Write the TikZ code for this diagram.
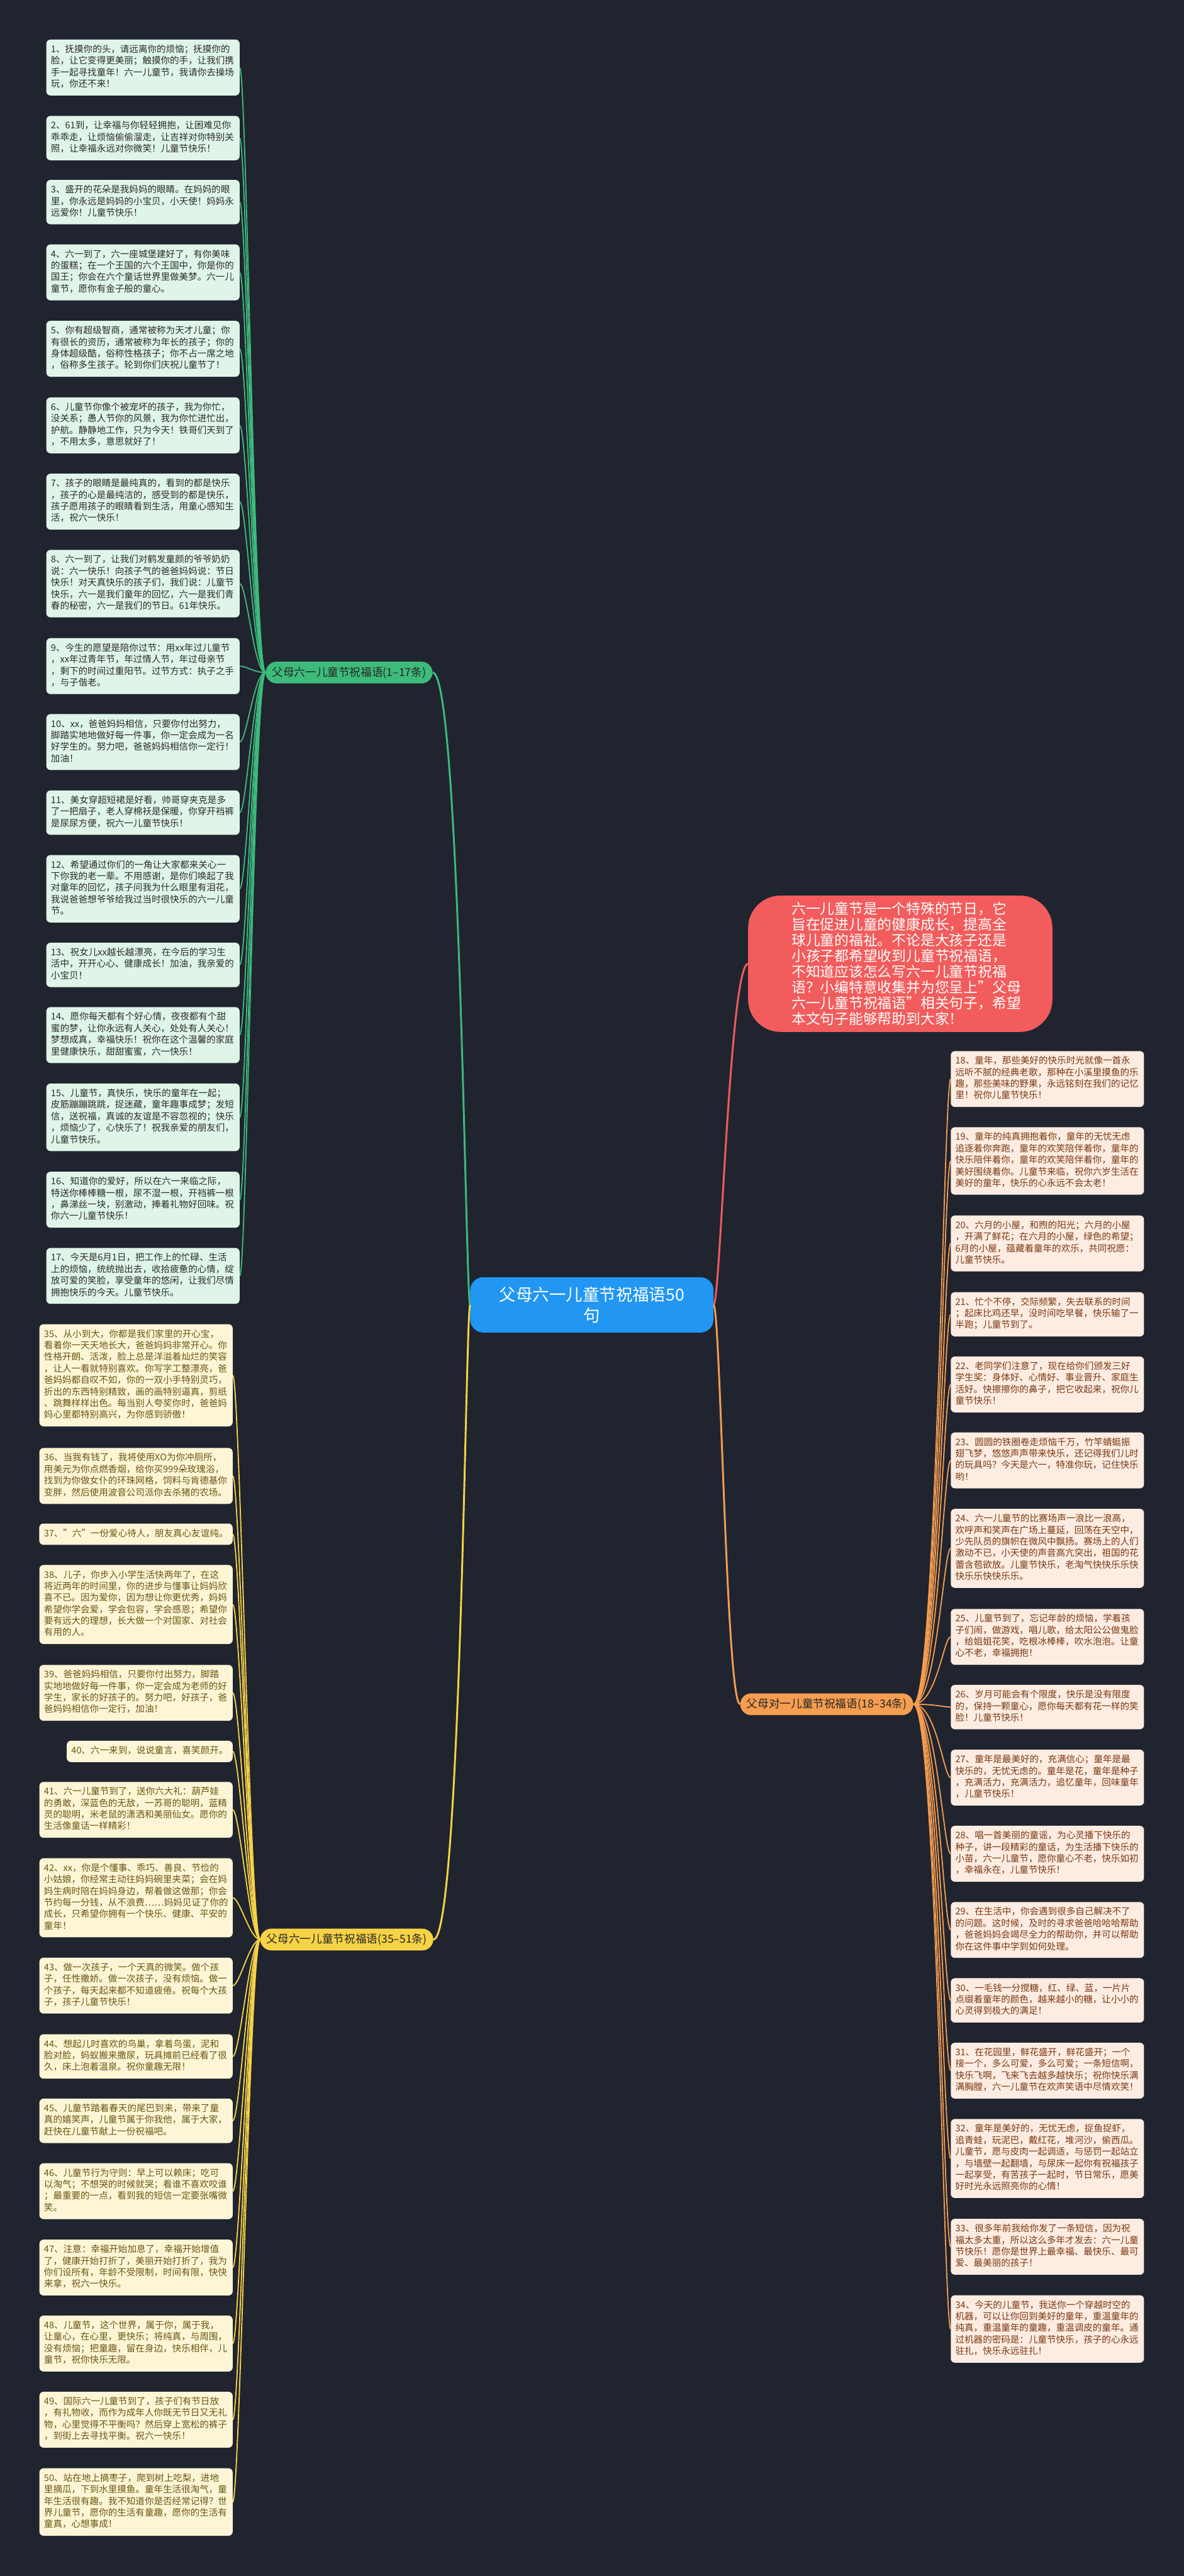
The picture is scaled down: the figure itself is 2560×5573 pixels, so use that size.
\documentclass[tikz,border=0pt]{standalone}
\usepackage{fontspec}
\setmainfont{Noto Sans CJK SC}
\usetikzlibrary{positioning}

\definecolor{bgnavy}{HTML}{20242F}
\definecolor{rootblue}{HTML}{2196F3}
\definecolor{introred}{HTML}{F25C5C}
\definecolor{brgreen}{HTML}{3DBB7B}
\definecolor{brorange}{HTML}{F59D50}
\definecolor{bryellow}{HTML}{F6D246}
\definecolor{lfgreen}{HTML}{DFF5E8}
\definecolor{lforange}{HTML}{FDECE1}
\definecolor{lfyellow}{HTML}{FDF6D6}
\definecolor{txgreen}{HTML}{2B2B2B}
\definecolor{txorange}{HTML}{7A3812}
\definecolor{txyellow}{HTML}{6B5512}

\tikzset{
  leafbox/.style={rounded corners=9pt, align=left, inner xsep=10pt, inner ysep=10.5pt,
    font=\fontsize{19.8}{25}\selectfont, execute at begin node=\strut, execute at end node=\strut},
  gleaf/.style={leafbox, fill=lfgreen, text=txgreen, text width=398pt, anchor=north west},
  oleaf/.style={leafbox, fill=lforange, text=txorange, text width=398pt, anchor=north west},
  yleaf/.style={leafbox, fill=lfyellow, text=txyellow, text width=398pt, anchor=north west},
  yshort/.style={leafbox, fill=lfyellow, text=txyellow, anchor=east},
  branch/.style={rounded corners=24pt, inner xsep=14pt, inner ysep=11pt, text=black!85,
    font=\fontsize{24}{28}\selectfont},
  gline/.style={draw=brgreen, line width=2.5pt},
  oline/.style={draw=brorange, line width=2.5pt},
  yline/.style={draw=bryellow, line width=2.5pt}
}

\begin{document}
\begin{tikzpicture}[x=1pt, y=-1pt]
    % Background
    \fill[bgnavy] (0,0) rectangle (2560,5573);

    % Root and intro
    \node[fill=rootblue, text=white, rounded corners=28pt, align=center, text width=400pt,
      inner xsep=63pt, inner ysep=20pt, font=\fontsize{36}{46}\selectfont] (root) at (1280,2823)
      {父母六一儿童节祝福语50\\句};
    \node[fill=introred, text=white, rounded corners=70pt, align=left, text width=470pt,
      inner xsep=94pt, inner ysep=14pt, font=\fontsize{31}{34}\selectfont] (intro) at (1947,2085)
      {六一儿童节是一个特殊的节日，它\\旨在促进儿童的健康成长，提高全\\球儿童的福祉。不论是大孩子还是\\小孩子都希望收到儿童节祝福语，\\不知道应该怎么写六一儿童节祝福\\语？小编特意收集并为您呈上"父母\\六一儿童节祝福语"相关句子，希望\\本文句子能够帮助到大家！};

    % Branch labels
    \node[branch, fill=brgreen] (lab1) at (755,1455) {父母六一儿童节祝福语(1--17条)};
    \node[branch, fill=brorange] (lab2) at (1788,3687) {父母对一儿童节祝福语(18--34条)};
    \node[branch, fill=bryellow] (lab3) at (750,4196) {父母六一儿童节祝福语(35--51条)};

    \draw[draw=brgreen, line width=4pt] (root.west) .. controls +(-10,0) and +(60,0) .. (lab1.east);
    \draw[draw=bryellow, line width=4pt] (root.west) .. controls +(-10,0) and +(60,0) .. (lab3.east);
    \draw[draw=introred, line width=4pt] (root.east) .. controls +(15,0) and +(-40,0) .. (intro.west);
    \draw[draw=brorange, line width=4pt] (root.east) .. controls +(15,0) and +(-30,0) .. (lab2.west);

    % Branch 1 leaves
    \node[gleaf] (g1) at (100,85.4) {1、抚摸你的头，请远离你的烦恼；抚摸你的\\脸，让它变得更美丽；触摸你的手，让我们携\\手一起寻找童年！六一儿童节，我请你去操场\\玩，你还不来！};
    \node[gleaf] (g2) at (100,250.5) {2、61到，让幸福与你轻轻拥抱，让困难见你\\乖乖走，让烦恼偷偷溜走，让吉祥对你特别关\\照，让幸福永远对你微笑！儿童节快乐！};
    \node[gleaf] (g3) at (100,389) {3、盛开的花朵是我妈妈的眼睛。在妈妈的眼\\里，你永远是妈妈的小宝贝，小天使！妈妈永\\远爱你！儿童节快乐！};
    \node[gleaf] (g4) at (100,528.6) {4、六一到了，六一座城堡建好了，有你美味\\的蛋糕；在一个王国的六个王国中，你是你的\\国王；你会在六个童话世界里做美梦。六一儿\\童节，愿你有金子般的童心。};
    \node[gleaf] (g5) at (100,693.8) {5、你有超级智商，通常被称为天才儿童；你\\有很长的资历，通常被称为年长的孩子；你的\\身体超级酷，俗称性格孩子；你不占一席之地\\，俗称多生孩子。轮到你们庆祝儿童节了！};
    \node[gleaf] (g6) at (100,859.5) {6、儿童节你像个被宠坏的孩子，我为你忙，\\没关系；愚人节你的风景，我为你忙进忙出，\\护航。静静地工作，只为今天！铁哥们天到了\\，不用太多，意思就好了！};
    \node[gleaf] (g7) at (100,1024.6) {7、孩子的眼睛是最纯真的，看到的都是快乐\\，孩子的心是最纯洁的，感受到的都是快乐，\\孩子愿用孩子的眼睛看到生活，用童心感知生\\活，祝六一快乐！};
    \node[gleaf] (g8) at (100,1189.4) {8、六一到了，让我们对鹤发童颜的爷爷奶奶\\说：六一快乐！向孩子气的爸爸妈妈说：节日\\快乐！对天真快乐的孩子们，我们说：儿童节\\快乐，六一是我们童年的回忆，六一是我们青\\春的秘密，六一是我们的节日。61年快乐。};
    \node[gleaf] (g9) at (100,1380.4) {9、今生的愿望是陪你过节：用xx年过儿童节\\，xx年过青年节，年过情人节，年过母亲节\\，剩下的时间过重阳节。过节方式：执子之手\\，与子偕老。};
    \node[gleaf] (g10) at (100,1544.7) {10、xx，爸爸妈妈相信，只要你付出努力，\\脚踏实地地做好每一件事，你一定会成为一名\\好学生的。努力吧，爸爸妈妈相信你一定行！\\加油！};
    \node[gleaf] (g11) at (100,1709.9) {11、美女穿超短裙是好看，帅哥穿夹克是多\\了一把扇子，老人穿棉袄是保暖，你穿开裆裤\\是尿尿方便，祝六一儿童节快乐！};
    \node[gleaf] (g12) at (100,1849.6) {12、希望通过你们的一角让大家都来关心一\\下你我的老一辈。不用感谢，是你们唤起了我\\对童年的回忆，孩子问我为什么眼里有泪花，\\我说爸爸想爷爷给我过当时很快乐的六一儿童\\节。};
    \node[gleaf] (g13) at (100,2039.3) {13、祝女儿xx越长越漂亮，在今后的学习生\\活中，开开心心、健康成长！加油，我亲爱的\\小宝贝！};
    \node[gleaf] (g14) at (100,2178.6) {14、愿你每天都有个好心情，夜夜都有个甜\\蜜的梦，让你永远有人关心，处处有人关心！\\梦想成真，幸福快乐！祝你在这个温馨的家庭\\里健康快乐，甜甜蜜蜜，六一快乐！};
    \node[gleaf] (g15) at (100,2344) {15、儿童节，真快乐，快乐的童年在一起；\\皮筋蹦蹦跳跳，捉迷藏，童年趣事成梦；发短\\信，送祝福，真诚的友谊是不容忽视的；快乐\\，烦恼少了，心快乐了！祝我亲爱的朋友们，\\儿童节快乐。};
    \node[gleaf] (g16) at (100,2534.8) {16、知道你的爱好，所以在六一来临之际，\\特送你棒棒糖一根，尿不湿一根，开裆裤一根\\，鼻涕丝一块，别激动，捧着礼物好回味。祝\\你六一儿童节快乐！};
    \node[gleaf] (g17) at (100,2699.6) {17、今天是6月1日，把工作上的忙碌、生活\\上的烦恼，统统抛出去，收拾疲惫的心情，绽\\放可爱的笑脸，享受童年的悠闲，让我们尽情\\拥抱快乐的今天。儿童节快乐。};

    \draw[gline] (lab1.west) .. controls +(-25,0) and +(15,0) .. (g1.east);
    \draw[gline] (lab1.west) .. controls +(-25,0) and +(15,0) .. (g2.east);
    \draw[gline] (lab1.west) .. controls +(-25,0) and +(15,0) .. (g3.east);
    \draw[gline] (lab1.west) .. controls +(-25,0) and +(15,0) .. (g4.east);
    \draw[gline] (lab1.west) .. controls +(-25,0) and +(15,0) .. (g5.east);
    \draw[gline] (lab1.west) .. controls +(-25,0) and +(15,0) .. (g6.east);
    \draw[gline] (lab1.west) .. controls +(-25,0) and +(15,0) .. (g7.east);
    \draw[gline] (lab1.west) .. controls +(-25,0) and +(15,0) .. (g8.east);
    \draw[gline] (lab1.west) .. controls +(-25,0) and +(15,0) .. (g9.east);
    \draw[gline] (lab1.west) .. controls +(-25,0) and +(15,0) .. (g10.east);
    \draw[gline] (lab1.west) .. controls +(-25,0) and +(15,0) .. (g11.east);
    \draw[gline] (lab1.west) .. controls +(-25,0) and +(15,0) .. (g12.east);
    \draw[gline] (lab1.west) .. controls +(-25,0) and +(15,0) .. (g13.east);
    \draw[gline] (lab1.west) .. controls +(-25,0) and +(15,0) .. (g14.east);
    \draw[gline] (lab1.west) .. controls +(-25,0) and +(15,0) .. (g15.east);
    \draw[gline] (lab1.west) .. controls +(-25,0) and +(15,0) .. (g16.east);
    \draw[gline] (lab1.west) .. controls +(-25,0) and +(15,0) .. (g17.east);

    % Branch 2 leaves
    \node[oleaf] (o18) at (2056,2273.7) {18、童年，那些美好的快乐时光就像一首永\\远听不腻的经典老歌，那种在小溪里摸鱼的乐\\趣，那些美味的野果，永远铭刻在我们的记忆\\里！祝你儿童节快乐！};
    \node[oleaf] (o19) at (2056,2438.5) {19、童年的纯真拥抱着你，童年的无忧无虑\\追逐着你奔跑，童年的欢笑陪伴着你，童年的\\快乐陪伴着你，童年的欢笑陪伴着你，童年的\\美好围绕着你。儿童节来临，祝你六岁生活在\\美好的童年，快乐的心永远不会太老！};
    \node[oleaf] (o20) at (2056,2629.4) {20、六月的小屋，和煦的阳光；六月的小屋\\，开满了鲜花；在六月的小屋，绿色的希望；\\6月的小屋，蕴藏着童年的欢乐，共同祝愿：\\儿童节快乐。};
    \node[oleaf] (o21) at (2056,2795.2) {21、忙个不停，交际频繁，失去联系的时间\\；起床比鸡还早，没时间吃早餐，快乐输了一\\半跑；儿童节到了。};
    \node[oleaf] (o22) at (2056,2934.4) {22、老同学们注意了，现在给你们颁发三好\\学生奖：身体好、心情好、事业晋升、家庭生\\活好。快擦擦你的鼻子，把它收起来，祝你儿\\童节快乐！};
    \node[oleaf] (o23) at (2056,3098.7) {23、圆圆的铁圈卷走烦恼千万，竹竿蜻蜓振\\翅飞梦，悠悠声声带来快乐，还记得我们儿时\\的玩具吗？今天是六一，特准你玩，记住快乐\\哟！};
    \node[oleaf] (o24) at (2056,3264) {24、六一儿童节的比赛场声一浪比一浪高，\\欢呼声和笑声在广场上蔓延，回荡在天空中，\\少先队员的旗帜在微风中飘扬。赛场上的人们\\激动不已，小天使的声音高亢突出，祖国的花\\蕾含苞欲放。儿童节快乐，老淘气快快乐乐快\\快乐乐快快乐乐。};
    \node[oleaf] (o25) at (2056,3480.5) {25、儿童节到了，忘记年龄的烦恼，学着孩\\子们闹，做游戏，唱儿歌，给太阳公公做鬼脸\\，给姐姐花笑，吃根冰棒棒，吹水泡泡。让童\\心不老，幸福拥抱！};
    \node[oleaf] (o26) at (2056,3644.9) {26、岁月可能会有个限度，快乐是没有限度\\的，保持一颗童心，愿你每天都有花一样的笑\\脸！儿童节快乐！};
    \node[oleaf] (o27) at (2056,3785) {27、童年是最美好的，充满信心；童年是最\\快乐的，无忧无虑的。童年是花，童年是种子\\，充满活力，充满活力，追忆童年，回味童年\\，儿童节快乐！};
    \node[oleaf] (o28) at (2056,3949.8) {28、唱一首美丽的童谣，为心灵播下快乐的\\种子，讲一段精彩的童话，为生活播下快乐的\\小苗，六一儿童节，愿你童心不老，快乐如初\\，幸福永在，儿童节快乐！};
    \node[oleaf] (o29) at (2056,4114.6) {29、在生活中，你会遇到很多自己解决不了\\的问题。这时候，及时的寻求爸爸哈哈哈帮助\\，爸爸妈妈会竭尽全力的帮助你，并可以帮助\\你在这件事中学到如何处理。};
    \node[oleaf] (o30) at (2056,4279.4) {30、一毛钱一分搅糖，红、绿、蓝，一片片\\点缀着童年的颜色，越来越小的糖，让小小的\\心灵得到极大的满足！};
    \node[oleaf] (o31) at (2056,4419) {31、在花园里，鲜花盛开，鲜花盛开；一个\\接一个，多么可爱，多么可爱；一条短信啊，\\快乐飞啊，飞来飞去越多越快乐；祝你快乐满\\满胸膛，六一儿童节在欢声笑语中尽情欢笑！};
    \node[oleaf] (o32) at (2056,4584) {32、童年是美好的，无忧无虑，捉鱼捉虾，\\追青蛙，玩泥巴，戴红花，堆河沙，偷西瓜。\\儿童节，愿与皮肉一起调适，与惩罚一起站立\\，与墙壁一起翻墙，与尿床一起你有祝福孩子\\一起享受，有苦孩子一起时，节日常乐，愿美\\好时光永远照亮你的心情！};
    \node[oleaf] (o33) at (2056,4800) {33、很多年前我给你发了一条短信，因为祝\\福太多太重，所以这么多年才发去：六一儿童\\节快乐！愿你是世界上最幸福、最快乐、最可\\爱、最美丽的孩子！};
    \node[oleaf] (o34) at (2056,4965.3) {34、今天的儿童节，我送你一个穿越时空的\\机器，可以让你回到美好的童年，重温童年的\\纯真，重温童年的童趣，重温调皮的童年。通\\过机器的密码是：儿童节快乐，孩子的心永远\\驻扎，快乐永远驻扎！};

    \draw[oline] (lab2.east) .. controls +(50,0) and +(-15,0) .. (o18.west);
    \draw[oline] (lab2.east) .. controls +(50,0) and +(-15,0) .. (o19.west);
    \draw[oline] (lab2.east) .. controls +(50,0) and +(-15,0) .. (o20.west);
    \draw[oline] (lab2.east) .. controls +(50,0) and +(-15,0) .. (o21.west);
    \draw[oline] (lab2.east) .. controls +(50,0) and +(-15,0) .. (o22.west);
    \draw[oline] (lab2.east) .. controls +(50,0) and +(-15,0) .. (o23.west);
    \draw[oline] (lab2.east) .. controls +(50,0) and +(-15,0) .. (o24.west);
    \draw[oline] (lab2.east) .. controls +(50,0) and +(-15,0) .. (o25.west);
    \draw[oline] (lab2.east) .. controls +(50,0) and +(-15,0) .. (o26.west);
    \draw[oline] (lab2.east) .. controls +(50,0) and +(-15,0) .. (o27.west);
    \draw[oline] (lab2.east) .. controls +(50,0) and +(-15,0) .. (o28.west);
    \draw[oline] (lab2.east) .. controls +(50,0) and +(-15,0) .. (o29.west);
    \draw[oline] (lab2.east) .. controls +(50,0) and +(-15,0) .. (o30.west);
    \draw[oline] (lab2.east) .. controls +(50,0) and +(-15,0) .. (o31.west);
    \draw[oline] (lab2.east) .. controls +(50,0) and +(-15,0) .. (o32.west);
    \draw[oline] (lab2.east) .. controls +(50,0) and +(-15,0) .. (o33.west);
    \draw[oline] (lab2.east) .. controls +(50,0) and +(-15,0) .. (o34.west);

    % Branch 3 leaves
    \node[yleaf] (y35) at (85,2864.6) {35、从小到大，你都是我们家里的开心宝，\\看着你一天天地长大，爸爸妈妈非常开心。你\\性格开朗、活泼，脸上总是洋溢着灿烂的笑容\\，让人一看就特别喜欢。你写字工整漂亮，爸\\爸妈妈都自叹不如，你的一双小手特别灵巧，\\折出的东西特别精致，画的画特别逼真，剪纸\\、跳舞样样出色。每当别人夸奖你时，爸爸妈\\妈心里都特别高兴，为你感到骄傲！};
    \node[yleaf] (y36) at (85,3132.4) {36、当我有钱了，我将使用XO为你冲厕所，\\用美元为你点燃香烟，给你买999朵玫瑰浴，\\找到为你做女仆的环珠网格，饲料与肯德基你\\变胖，然后使用波音公司派你去杀猪的农场。};
    \node[yshort] (y37) at (503.3,3319) {37、"六"一份爱心待人，朋友真心友谊纯。};
    \node[yleaf] (y38) at (85,3385.5) {38、儿子，你步入小学生活快两年了，在这\\将近两年的时间里，你的进步与懂事让妈妈欣\\喜不已。因为爱你，因为想让你更优秀，妈妈\\希望你学会爱，学会包容，学会感恩；希望你\\要有远大的理想，长大做一个对国家、对社会\\有用的人。};
    \node[yleaf] (y39) at (85,3601.6) {39、爸爸妈妈相信，只要你付出努力，脚踏\\实地地做好每一件事，你一定会成为老师的好\\学生，家长的好孩子的。努力吧，好孩子，爸\\爸妈妈相信你一定行，加油！};
    \node[yshort] (y40) at (503.3,3789) {40、六一来到，说说童言，喜笑颜开。};
    \node[yleaf] (y41) at (85,3854.7) {41、六一儿童节到了，送你六大礼：葫芦娃\\的勇敢，深蓝色的无敌，一苏哥的聪明，蓝精\\灵的聪明，米老鼠的潇洒和美丽仙女。愿你的\\生活像童话一样精彩！};
    \node[yleaf] (y42) at (85,4019.9) {42、xx，你是个懂事、乖巧、善良、节俭的\\小姑娘，你经常主动往妈妈碗里夹菜；会在妈\\妈生病时陪在妈妈身边，帮着做这做那；你会\\节约每一分钱，从不浪费……妈妈见证了你的\\成长，只希望你拥有一个快乐、健康、平安的\\童年！};
    \node[yleaf] (y43) at (85,4235) {43、做一次孩子，一个天真的微笑。做个孩\\子，任性撒娇。做一次孩子，没有烦恼。做一\\个孩子，每天起来都不知道疲倦。祝每个大孩\\子，孩子儿童节快乐！};
    \node[yleaf] (y44) at (85,4400.7) {44、想起儿时喜欢的鸟巢，拿着鸟蛋，泥和\\脸对脸，蚂蚁搬来撒尿，玩具摊前已经看了很\\久，床上泡着温泉。祝你童趣无限！};
    \node[yleaf] (y45) at (85,4540) {45、儿童节踏着春天的尾巴到来，带来了童\\真的嬉笑声，儿童节属于你我他，属于大家，\\赶快在儿童节献上一份祝福吧。};
    \node[yleaf] (y46) at (85,4679.7) {46、儿童节行为守则：早上可以赖床；吃可\\以淘气；不想哭的时候就哭；看谁不喜欢咬谁\\；最重要的一点，看到我的短信一定要张嘴微\\笑。};
    \node[yleaf] (y47) at (85,4844.9) {47、注意：幸福开始加息了，幸福开始增值\\了，健康开始打折了，美丽开始打折了，我为\\你们设所有，年龄不受限制，时间有限，快快\\来拿，祝六一快乐。};
    \node[yleaf] (y48) at (85,5009.4) {48、儿童节，这个世界，属于你，属于我，\\让童心，在心里，更快乐；将纯真，与周围，\\没有烦恼；把童趣，留在身边，快乐相伴，儿\\童节，祝你快乐无限。};
    \node[yleaf] (y49) at (85,5174.1) {49、国际六一儿童节到了，孩子们有节日放\\，有礼物收，而作为成年人你既无节日又无礼\\物，心里觉得不平衡吗？然后穿上宽松的裤子\\，到街上去寻找平衡。祝六一快乐！};
    \node[yleaf] (y50) at (85,5339.7) {50、站在地上摘枣子，爬到树上吃梨，进地\\里摘瓜，下到水里摸鱼。童年生活很淘气，童\\年生活很有趣。我不知道你是否经常记得？世\\界儿童节，愿你的生活有童趣，愿你的生活有\\童真，心想事成！};

    \draw[yline] (lab3.west) .. controls +(-22,0) and +(15,0) .. (y35.east);
    \draw[yline] (lab3.west) .. controls +(-22,0) and +(15,0) .. (y36.east);
    \draw[yline] (lab3.west) .. controls +(-22,0) and +(15,0) .. (y37.east);
    \draw[yline] (lab3.west) .. controls +(-22,0) and +(15,0) .. (y38.east);
    \draw[yline] (lab3.west) .. controls +(-22,0) and +(15,0) .. (y39.east);
    \draw[yline] (lab3.west) .. controls +(-22,0) and +(15,0) .. (y40.east);
    \draw[yline] (lab3.west) .. controls +(-22,0) and +(15,0) .. (y41.east);
    \draw[yline] (lab3.west) .. controls +(-22,0) and +(15,0) .. (y42.east);
    \draw[yline] (lab3.west) .. controls +(-22,0) and +(15,0) .. (y43.east);
    \draw[yline] (lab3.west) .. controls +(-22,0) and +(15,0) .. (y44.east);
    \draw[yline] (lab3.west) .. controls +(-22,0) and +(15,0) .. (y45.east);
    \draw[yline] (lab3.west) .. controls +(-22,0) and +(15,0) .. (y46.east);
    \draw[yline] (lab3.west) .. controls +(-22,0) and +(15,0) .. (y47.east);
    \draw[yline] (lab3.west) .. controls +(-22,0) and +(15,0) .. (y48.east);
    \draw[yline] (lab3.west) .. controls +(-22,0) and +(15,0) .. (y49.east);
    \draw[yline] (lab3.west) .. controls +(-22,0) and +(15,0) .. (y50.east);
\end{tikzpicture}
\end{document}
